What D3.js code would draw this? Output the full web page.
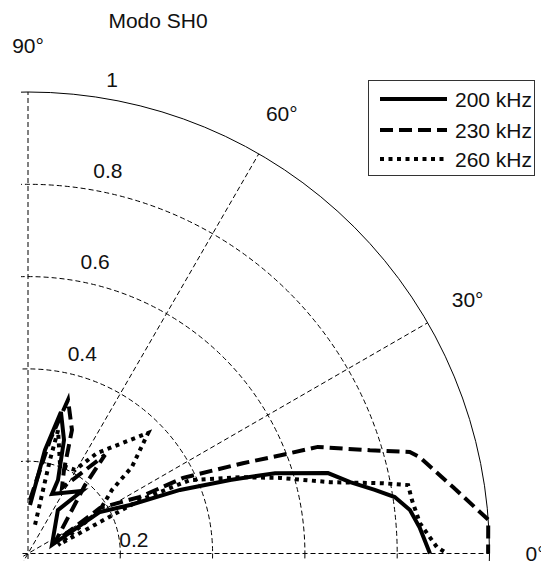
<!DOCTYPE html>
<html>
<head>
<meta charset="utf-8">
<script src="https://cdn.jsdelivr.net/npm/d3@7"></script>
<style>
  html, body { margin: 0; padding: 0; background: #fff; }
  svg { display: block; }
  text { font-family: "Liberation Sans", Arial, sans-serif; fill: #111; }
</style>
</head>
<body>
<svg id="chart" width="541" height="564"></svg>
<script>
// Directivity of the SH0 mode: angle (degrees) and normalised amplitude
const series = ["200 kHz", "230 kHz", "260 kHz"];

const theta200 = [87.6, 80.7, 76.9, 72.4, 67.8, 68.0, 49.2, 55.4, 19.5, 30.0, 25.4, 22.7, 20.0, 18.0, 15.0, 12.5, 10.4, 8.75, 6.5, 3.7, 0];
const amp200   = [0.105, 0.227, 0.315, 0.258, 0.172, 0.139, 0.179, 0.114, 0.055, 0.180, 0.245, 0.357, 0.466, 0.563, 0.673, 0.715, 0.764, 0.804, 0.833, 0.851, 0.871];

const theta230 = [87.9, 79.0, 75.4, 70.4, 66.7, 62.6, 52.0, 50.2, 23.1, 32.3, 26.8, 26.0, 22.8, 21.2, 20.2, 16.8, 14.9, 13.8, 8.9, 4.2, 0];
const amp230   = [0.116, 0.251, 0.344, 0.284, 0.197, 0.160, 0.271, 0.193, 0.064, 0.185, 0.272, 0.374, 0.505, 0.590, 0.669, 0.774, 0.856, 0.874, 0.932, 1.000, 0.997];

const theta260 = [76.2, 76.8, 76.3, 70.1, 60.6, 55.5, 45.1, 39.8, 37.1, 31.1, 15.8, 25.5, 24.4, 19.8, 16.7, 13.3, 11.2, 10.2, 7.9, 4.4, 0.9, 0];
const amp260   = [0.064, 0.208, 0.275, 0.204, 0.208, 0.264, 0.369, 0.293, 0.228, 0.182, 0.068, 0.269, 0.385, 0.488, 0.570, 0.672, 0.784, 0.837, 0.840, 0.852, 0.886, 0.908];

const ringTicks = [0.2, 0.4, 0.6, 0.8, 1];
const ringLabels = ["0.2", "0.4", "0.6", "0.8", "1"];
const spokeAngles = [0, 30, 60, 90];
const spokeLabels = ["0°", "30°", "60°", "90°"];
const title = "Modo SH0";

// line styles per series
const dashes = [null, "13,6", "4,4.5"];

const svg = d3.select("#chart");
const cx = 28, cy = 553.5, R = 461.5;
const rScale = d3.scaleLinear().domain([0, 1]).range([0, R]);
const rad = d => d * Math.PI / 180;

// clip region of the polar axes
svg.append("clipPath").attr("id", "axclip")
  .append("rect").attr("x", 21).attr("y", 0).attr("width", 520).attr("height", 561);

const g = svg.append("g").attr("transform", `translate(${cx},${cy})`);
const grid = g.append("g").attr("clip-path", "url(#axclip)")
  .attr("transform", `translate(${-cx},${-cy})`)
  .append("g").attr("transform", `translate(${cx},${cy})`);

// range circles
grid.selectAll("circle.ring").data(ringTicks).join("circle")
  .attr("r", d => rScale(d))
  .attr("fill", "none")
  .attr("stroke", "#000")
  .attr("stroke-width", 1)
  .attr("stroke-dasharray", d => d === 1 ? null : "5,3");

// spokes through the origin
grid.selectAll("line.spoke").data(spokeAngles).join("line")
  .attr("x1", d => -rScale(1) * Math.cos(rad(d)))
  .attr("y1", d => rScale(1) * Math.sin(rad(d)))
  .attr("x2", d => rScale(1) * Math.cos(rad(d)))
  .attr("y2", d => -rScale(1) * Math.sin(rad(d)))
  .attr("stroke", "#000")
  .attr("stroke-width", 1)
  .attr("stroke-dasharray", "5,3");

// range labels
g.selectAll("text.rlab").data(ringTicks).join("text")
  .attr("x", d => d === 0.2 ? rScale(d) - 1 : 0.139 * rScale(d) + 14)
  .attr("y", d => d === 0.2 ? -14 : -0.99 * rScale(d) - 17.5)
  .attr("dominant-baseline", "central")
  .attr("font-size", 21)
  .text((d, i) => ringLabels[i]);

// angle labels
g.selectAll("text.alab").data(spokeAngles).join("text")
  .attr("x", d => 1.1 * rScale(1) * Math.cos(rad(d)))
  .attr("y", d => -1.1 * rScale(1) * Math.sin(rad(d)))
  .attr("text-anchor", "middle")
  .attr("dominant-baseline", "central")
  .attr("font-size", 21)
  .text((d, i) => spokeLabels[i]);

// data curves
const radial = d3.lineRadial()
  .angle(d => rad(90 - d.t))
  .radius(d => rScale(d.r));

const curves = [
  theta200.map((t, i) => ({ t, r: amp200[i] })),
  theta230.map((t, i) => ({ t, r: amp230[i] })),
  theta260.map((t, i) => ({ t, r: amp260[i] }))
];

g.selectAll("path.curve").data(curves).join("path")
  .attr("d", radial)
  .attr("fill", "none")
  .attr("stroke", "#000")
  .attr("stroke-width", 4)
  .attr("stroke-linejoin", "miter")
  .attr("stroke-dasharray", (d, i) => dashes[i]);

// title
svg.append("text").attr("x", 158).attr("y", 28)
  .attr("text-anchor", "middle").attr("font-size", 21).text(title);

// legend
const leg = svg.append("g");
leg.append("rect").attr("x", 368.5).attr("y", 80.5).attr("width", 166).attr("height", 95)
  .attr("fill", "#fff").attr("stroke", "#333").attr("stroke-width", 1);
const rowY = [99, 130, 159];
series.forEach((s, i) => {
  leg.append("line").attr("x1", 380).attr("x2", 447).attr("y1", rowY[i]).attr("y2", rowY[i])
    .attr("stroke", "#000").attr("stroke-width", 4)
    .attr("stroke-dasharray", dashes[i]);
  leg.append("text").attr("x", 455).attr("y", rowY[i])
    .attr("dominant-baseline", "central").attr("font-size", 21).text(s);
});
</script>
</body>
</html>
